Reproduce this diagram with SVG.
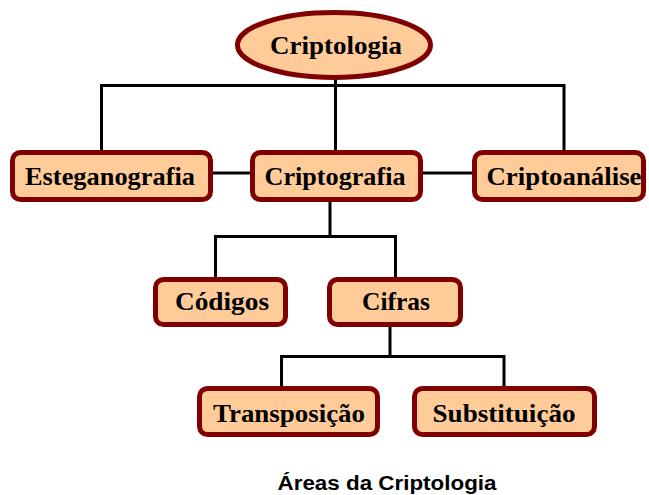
<svg xmlns="http://www.w3.org/2000/svg" width="649" height="495" viewBox="0 0 649 495">
<style>
.box{fill:#FFCC99;stroke:#800000;stroke-width:5}
.lbl{font-family:"Liberation Serif","Times New Roman",serif;font-weight:bold;font-size:26px;fill:#000;text-anchor:middle}
.con{fill:none;stroke:#000;stroke-width:3;stroke-linejoin:miter}
.cap{font-family:"Liberation Sans",Arial,sans-serif;font-weight:bold;font-size:20px;fill:#000;text-anchor:middle}
</style>
<rect width="649" height="495" fill="#fff"/>
<g id="connectors">
<path class="con" d="M101.5 150 V85.5 H564 V150"/>
<path class="con" d="M335.5 79 V150"/>
<path class="con" d="M213 173 H250"/>
<path class="con" d="M423 173 H472"/>
<path class="con" d="M330 202 V236.5"/>
<path class="con" d="M215.5 278 V236.5 H395.5 V278"/>
<path class="con" d="M390 327 V356.5"/>
<path class="con" d="M281.5 387 V356.5 H504 V387"/>
</g>
<g id="criptologia">
<ellipse class="box" cx="334" cy="45" rx="96.5" ry="32.5"/>
<text class="lbl" x="336" y="54" textLength="132" lengthAdjust="spacingAndGlyphs">Criptologia</text>
</g>
<g id="esteganografia">
<rect class="box" x="12.5" y="152.5" width="198" height="47" rx="8"/>
<text class="lbl" x="110" y="185" textLength="170" lengthAdjust="spacingAndGlyphs">Esteganografia</text>
</g>
<g id="criptografia">
<rect class="box" x="252.5" y="152.5" width="168" height="47" rx="8"/>
<text class="lbl" x="335" y="185" textLength="141" lengthAdjust="spacingAndGlyphs">Criptografia</text>
</g>
<g id="criptoanalise">
<rect class="box" x="474.5" y="152.5" width="169" height="47" rx="8"/>
<text class="lbl" x="564" y="185" textLength="155" lengthAdjust="spacingAndGlyphs">Criptoanálise</text>
</g>
<g id="codigos">
<rect class="box" x="155.5" y="279.5" width="130" height="45" rx="8"/>
<text class="lbl" x="222" y="310" textLength="94" lengthAdjust="spacingAndGlyphs">Códigos</text>
</g>
<g id="cifras">
<rect class="box" x="329.5" y="279.5" width="131" height="45" rx="8"/>
<text class="lbl" x="396" y="310" textLength="68" lengthAdjust="spacingAndGlyphs">Cifras</text>
</g>
<g id="transposicao">
<rect class="box" x="199.5" y="388.5" width="178" height="46" rx="8"/>
<text class="lbl" x="289" y="422" textLength="152" lengthAdjust="spacingAndGlyphs">Transposição</text>
</g>
<g id="substituicao">
<rect class="box" x="414.5" y="388.5" width="180" height="46" rx="8"/>
<text class="lbl" x="504" y="422" textLength="143" lengthAdjust="spacingAndGlyphs">Substituição</text>
</g>
<text class="cap" x="387" y="490" textLength="219" lengthAdjust="spacingAndGlyphs">Áreas da Criptologia</text>
</svg>
